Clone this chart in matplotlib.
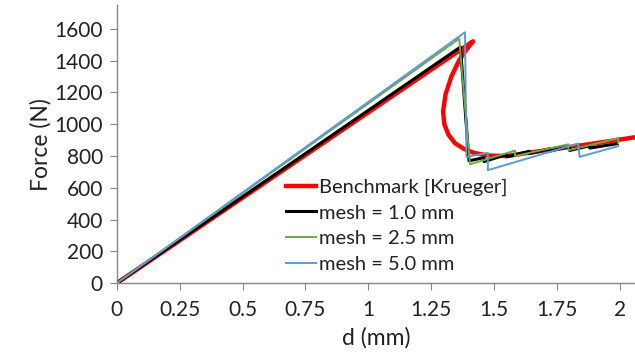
import matplotlib
matplotlib.use('Agg')
import matplotlib.pyplot as plt

# ===== DATA =====
bench_d = [0, 1.416, 1.39, 1.36, 1.33, 1.307, 1.297, 1.302, 1.318, 1.345, 1.38, 1.42,
           1.475, 1.55, 1.70, 1.85, 2.06]
bench_f = [0, 1522, 1470, 1400, 1300, 1190, 1080, 1000, 935, 880, 845, 820,
           803, 800, 835, 868, 918]

mesh10_d = [0, 1.366, 1.40, 1.46, 1.46, 1.55, 1.55, 1.64, 1.64, 1.72, 1.72, 1.80, 1.80, 1.88, 1.88, 1.99]
mesh10_f = [0, 1486, 770, 790, 765, 810, 795, 830, 815, 845, 830, 860, 835, 865, 850, 878]

mesh25_d = [0, 1.361, 1.404, 1.583, 1.583, 1.795, 1.795, 1.993, 1.993]
mesh25_f = [0, 1539, 748, 834, 800, 874, 836, 912, 879]

mesh50_d = [0, 1.384, 1.39, 1.475, 1.475, 1.834, 1.84, 1.993]
mesh50_f = [0, 1579, 794, 820, 711, 879, 795, 862]

x_ticks = [0, 0.25, 0.5, 0.75, 1, 1.25, 1.5, 1.75, 2]
x_tick_labels = ['0', '0.25', '0.5', '0.75', '1', '1.25', '1.5', '1.75', '2']
y_ticks = [0, 200, 400, 600, 800, 1000, 1200, 1400, 1600]

# ===== PLOT =====
plt.rcParams['font.family'] = ['Lato', 'DejaVu Sans']

fig = plt.figure(figsize=(6.35, 3.63), dpi=100)
ax = fig.add_axes([0.184, 0.220, 0.816, 0.766])

ax.plot(bench_d, bench_f, color='#ff0000', lw=3.2, label='Benchmark [Krueger]',
        zorder=2, solid_joinstyle='round')
ax.plot(mesh10_d, mesh10_f, color='black', lw=2.2, label='mesh = 1.0 mm', zorder=3)
ax.plot(mesh25_d, mesh25_f, color='#70a845', lw=1.4, label='mesh = 2.5 mm', zorder=4)
ax.plot(mesh50_d, mesh50_f, color='#5b9bd5', lw=1.4, label='mesh = 5.0 mm', zorder=5)

ax.set_xlim(0, 2.06)
ax.set_ylim(0, 1750)
ax.set_xticks(x_ticks)
ax.set_xticklabels(x_tick_labels)
ax.set_yticks(y_ticks)

for s in ['top', 'right']:
    ax.spines[s].set_visible(False)
for s in ['left', 'bottom']:
    ax.spines[s].set_color('#868686')
    ax.spines[s].set_linewidth(1.0)

ax.tick_params(axis='both', direction='out', length=5, color='#868686',
               labelsize=15, labelcolor='#222222')
ax.tick_params(axis='x', pad=7)
ax.tick_params(axis='y', pad=5)

ax.set_xlabel('d (mm)', fontsize=16.5, color='#222222', labelpad=5)
ax.set_ylabel('Force (N)', fontsize=16.5, color='#222222', labelpad=2)

ax.legend(loc='upper left', bbox_to_anchor=(0.31, 0.405), frameon=False,
          fontsize=14.5, handlelength=1.5, handletextpad=0.15,
          labelspacing=0.42, borderaxespad=0, labelcolor='#222222')

plt.savefig('out.png', dpi=100)
